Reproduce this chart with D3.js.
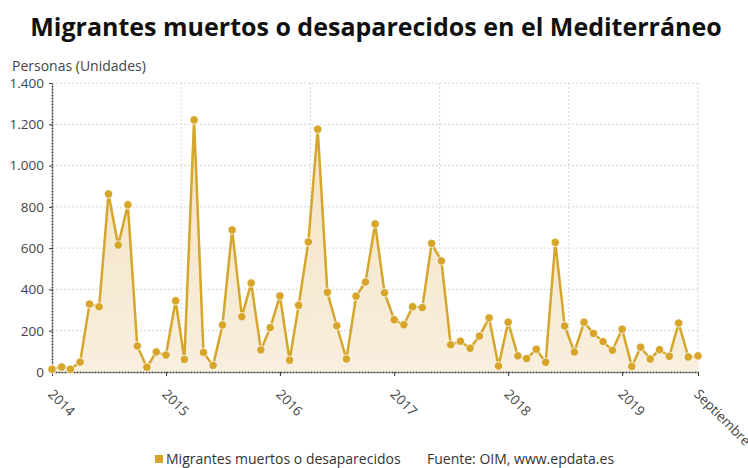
<!DOCTYPE html>
<html lang="es">
<head>
    <meta charset="UTF-8">
    <title>Migrantes muertos o desaparecidos en el Mediterráneo</title>
    <script src="https://cdnjs.cloudflare.com/ajax/libs/d3/7.8.5/d3.min.js"></script>
    <style>
        body {
            margin: 0;
            background: #fff;
            font-family: "Open Sans", "Noto Sans", sans-serif;
        }
        svg { display: block; }
        .grid line { stroke: #d8d8d8; stroke-dasharray: 2,2; }
        .axis text { fill: #444; font-size: 13.5px; font-family: "Open Sans", sans-serif; }
        .axis path, .axis line { stroke: #333; }
    </style>
</head>
<body>
    <div id="chart"></div>

    <script>
        // Monthly data, January 2014 to September 2019
        const firstMonth = new Date(2014, 0, 1);
        const lastMonth = new Date(2019, 8, 1);
        const values = [
            13, 24, 13, 48, 329, 316, 862, 615, 810, 126, 23, 97,
            82, 345, 61, 1221, 95, 32, 228, 688, 268, 431, 107, 215,
            368, 57, 323, 630, 1176, 386, 224, 63, 367, 436, 717, 384,
            253, 229, 316, 312, 623, 538, 132, 149, 115, 174, 262, 29,
            241, 78, 65, 110, 47, 628, 223, 97, 241, 187, 147, 105,
            207, 27, 120, 63, 108, 76, 237, 73, 78
        ];
        const xTickLabels = ["2014", "2015", "2016", "2017", "2018", "2019", "Septiembre"];
        const yTicks = [0, 200, 400, 600, 800, 1000, 1200, 1400];

        const months = d3.timeMonth.range(firstMonth, d3.timeMonth.offset(lastMonth, 1));
        const data = months.map((m, i) => ({date: m, value: values[i]}));
        const xTickDates = [2014, 2015, 2016, 2017, 2018, 2019].map(y => new Date(y, 0, 1)).concat([lastMonth]);

        const W = 748, H = 468;
        const margin = {top: 83, right: 50, bottom: 96, left: 52};
        const width = W - margin.left - margin.right;
        const height = H - margin.top - margin.bottom;

        const svgRoot = d3.select("#chart").append("svg")
            .attr("width", W)
            .attr("height", H);

        // Title
        svgRoot.append("text")
            .attr("x", 376)
            .attr("y", 36)
            .attr("text-anchor", "middle")
            .style("font-family", "'Open Sans', sans-serif")
            .style("font-weight", "bold")
            .style("font-size", "25px")
            .style("fill", "#111")
            .text("Migrantes muertos o desaparecidos en el Mediterráneo");

        // Y axis title
        svgRoot.append("text")
            .attr("x", 12)
            .attr("y", 71)
            .style("font-size", "14px")
            .style("fill", "#444")
            .text("Personas (Unidades)");

        const svg = svgRoot.append("g")
            .attr("transform", `translate(${margin.left},${margin.top})`);

        const x = d3.scaleTime()
            .domain([firstMonth, lastMonth])
            .range([0, width]);

        const y = d3.scaleLinear()
            .domain([0, 1400])
            .range([height, 0]);

        // Gradient for the area
        const defs = svgRoot.append("defs");
        const grad = defs.append("linearGradient")
            .attr("id", "areaFill")
            .attr("x1", 0).attr("y1", 0).attr("x2", 0).attr("y2", 1);
        grad.append("stop").attr("offset", "0%").attr("stop-color", "#f3dfb8").attr("stop-opacity", 0.9);
        grad.append("stop").attr("offset", "100%").attr("stop-color", "#f8eddb").attr("stop-opacity", 0.9);

        // Horizontal grid
        svg.append("g")
            .attr("class", "grid")
            .selectAll("line")
            .data(yTicks.slice(1))
            .join("line")
            .attr("x1", 0)
            .attr("x2", width)
            .attr("y1", d => y(d))
            .attr("y2", d => y(d));

        // Vertical grid (five equal bands)
        svg.append("g")
            .attr("class", "grid")
            .selectAll("line")
            .data(d3.range(1, 6))
            .join("line")
            .attr("x1", d => width * d / 5)
            .attr("x2", d => width * d / 5)
            .attr("y1", 0)
            .attr("y2", height);

        // Area
        const area = d3.area()
            .x(d => x(d.date))
            .y0(height)
            .y1(d => y(d.value));

        svg.append("path")
            .datum(data)
            .attr("fill", "url(#areaFill)")
            .attr("d", area);

        // Line
        const line = d3.line()
            .x(d => x(d.date))
            .y(d => y(d.value));

        svg.append("path")
            .datum(data)
            .attr("fill", "none")
            .attr("stroke", "#d4a62c")
            .attr("stroke-width", 2.5)
            .attr("stroke-linejoin", "round")
            .attr("d", line);

        // Y axis
        const yAxis = svg.append("g")
            .attr("class", "axis")
            .call(d3.axisLeft(y)
                .tickValues(yTicks)
                .tickFormat(d => d3.format(",")(d).replace(/,/g, "."))
                .tickSize(3)
                .tickPadding(5)
                .tickSizeOuter(0));
        yAxis.select(".domain").attr("stroke-dasharray", "2,1").attr("stroke-width", 1.5);

        // X axis
        const xAxis = svg.append("g")
            .attr("class", "axis")
            .attr("transform", `translate(0,${height})`)
            .call(d3.axisBottom(x)
                .tickValues(xTickDates)
                .tickFormat((d, i) => xTickLabels[i])
                .tickSize(4)
                .tickSizeOuter(0));
        xAxis.select(".domain").attr("stroke-dasharray", "2,1").attr("stroke-width", 1.5);
        xAxis.selectAll("text")
            .attr("text-anchor", "start")
            .attr("transform", "translate(1,14) rotate(45)")
            .attr("dy", "0.35em")
            .attr("y", 6)
            .attr("x", 2);

        // Points
        svg.append("g")
            .selectAll("circle")
            .data(data)
            .join("circle")
            .attr("cx", d => x(d.date))
            .attr("cy", d => y(d.value))
            .attr("r", 4.2)
            .attr("fill", "#d6a529")
            .attr("stroke", "#fff")
            .attr("stroke-width", 0.8);

        // Legend
        const legend = svgRoot.append("g").attr("transform", "translate(155,459)");
        legend.append("rect")
            .attr("x", 0).attr("y", -4)
            .attr("width", 8).attr("height", 8)
            .attr("fill", "#d6a529");
        legend.append("text")
            .attr("x", 11)
            .attr("y", 5)
            .style("font-size", "14px")
            .style("fill", "#333")
            .text("Migrantes muertos o desaparecidos");
        legend.append("text")
            .attr("x", 272)
            .attr("y", 5)
            .style("font-size", "14px")
            .style("fill", "#333")
            .text("Fuente: OIM, www.epdata.es");
    </script>
</body>
</html>
